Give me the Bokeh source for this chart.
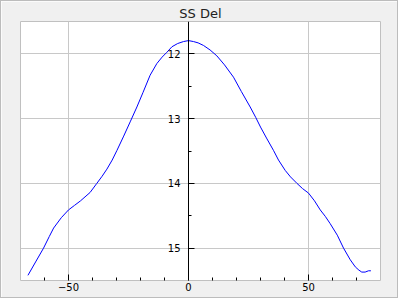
from bokeh.plotting import figure
from bokeh.models import Range1d, FixedTicker
from bokeh.embed import file_html
from bokeh.resources import INLINE

title_text = "SS Del"

phase = [-66.9, -63.5, -60.4, -58.0, -56.2, -53.0, -50.0, -47.5, -45.0, -41.0,
         -38.2, -36.0, -34.0, -31.8, -29.8, -27.0, -24.3, -21.5, -19.0, -16.0,
         -13.2, -11.0, -9.0, -6.9, -4.5, -2.1, 0.0, 2.1, 4.0, 6.25,
         9.0, 11.8, 15.0, 18.75, 22.0, 25.7, 28.0, 30.0, 32.5, 35.4,
         37.5, 40.3, 42.5, 45.2, 47.5, 50.0, 52.5, 54.9, 57.0, 59.0,
         62.0, 64.6, 67.4, 69.5, 71.0, 72.2, 73.6, 75.0, 76.0]
mag = [15.42, 15.20, 15.00, 14.82, 14.69, 14.53, 14.41, 14.34, 14.27, 14.14,
       14.00, 13.89, 13.78, 13.64, 13.49, 13.27, 13.05, 12.82, 12.60, 12.33,
       12.15, 12.05, 11.975, 11.89, 11.84, 11.81, 11.795, 11.81, 11.83, 11.87,
       11.94, 12.03, 12.17, 12.36, 12.58, 12.82, 12.98, 13.13, 13.30, 13.49,
       13.64, 13.80, 13.90, 14.00, 14.08, 14.15, 14.27, 14.41, 14.51, 14.62,
       14.80, 15.00, 15.18, 15.29, 15.34, 15.37, 15.37, 15.35, 15.35]

x_major_ticks = [-50, 0, 50]
x_minor_ticks = [-60, -40, -30, -20, -10, 10, 20, 30, 40, 60, 70]
y_major_ticks = [12, 13, 14, 15]
y_minor_ticks = [12.5, 13.5, 14.5]

p = figure(width=398, height=298, title=title_text,
           x_range=Range1d(-70, 80), y_range=Range1d(15.5, 11.5),
           output_backend="svg", toolbar_location=None,
           min_border_left=19, min_border_right=19,
           min_border_top=20, min_border_bottom=19,
           styles={"border": "1px solid #bcbcbc"})

p.border_fill_color = "#f0f0f0"
p.background_fill_color = "white"
p.outline_line_color = "#c0c0c0"
p.outline_line_width = 1

p.title.align = "center"
p.title.text_font = "DejaVu Sans"
p.title.text_font_size = "13px"
p.title.text_font_style = "normal"
p.title.text_color = "#222222"
p.title.standoff = 2

p.line(phase, mag, line_color="#0000ff", line_width=1)

xa = p.xaxis[0]
xa.ticker = FixedTicker(ticks=x_major_ticks, minor_ticks=x_minor_ticks)
xa.axis_line_color = None
xa.major_tick_in = 6
xa.major_tick_out = 0
xa.minor_tick_in = 3
xa.minor_tick_out = 0
xa.major_tick_line_color = "black"
xa.minor_tick_line_color = "black"
xa.major_label_text_font = "DejaVu Sans"
xa.major_label_text_font_size = "10px"
xa.major_label_text_color = "black"
xa.major_label_standoff = 2

ya = p.yaxis[0]
ya.ticker = FixedTicker(ticks=y_major_ticks, minor_ticks=y_minor_ticks)
ya.fixed_location = 0
ya.axis_line_color = "black"
ya.major_tick_in = 6
ya.major_tick_out = 0
ya.minor_tick_in = 3
ya.minor_tick_out = 0
ya.major_tick_line_color = "black"
ya.minor_tick_line_color = "black"
ya.major_label_text_font = "DejaVu Sans"
ya.major_label_text_font_size = "10px"
ya.major_label_text_color = "black"
ya.major_label_standoff = 8

p.xgrid.grid_line_color = "#c8c8c8"
p.ygrid.grid_line_color = "#c8c8c8"

open("out.html", "w").write(file_html(p, INLINE))
